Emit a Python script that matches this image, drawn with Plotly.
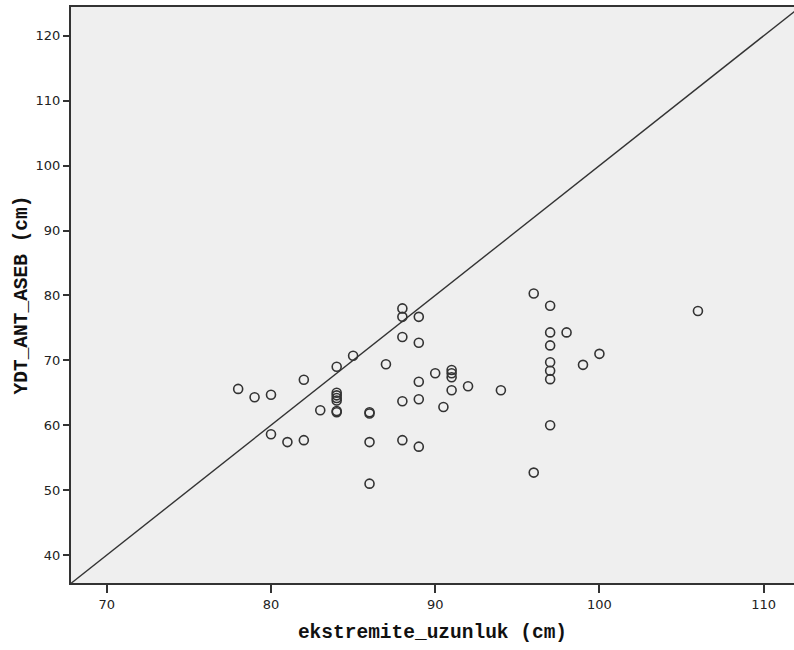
import plotly.graph_objects as go

# Limb length vs. YDT_ANT_ASEB measurements (cm)
ekstremite_uzunluk = [
    78, 79, 80, 80, 81, 82, 82, 83,
    84, 84, 84, 84, 84, 84, 84,
    85, 86, 86, 86, 86, 87,
    88, 88, 88, 88, 88,
    89, 89, 89, 89, 89,
    90, 90.5, 91, 91, 91, 91, 92, 94,
    96, 96, 97, 97, 97, 97, 97, 97, 97,
    98, 99, 100, 106,
]
ydt_ant_aseb = [
    65.6, 64.3, 64.7, 58.6, 57.4, 67.0, 57.7, 62.3,
    69.0, 65.0, 64.6, 64.2, 63.8, 62.2, 62.0,
    70.7, 62.0, 61.8, 57.4, 51.0, 69.4,
    78.0, 76.7, 73.6, 63.7, 57.7,
    76.7, 72.7, 66.7, 64.0, 56.7,
    68.0, 62.8, 68.5, 68.0, 67.4, 65.4, 66.0, 65.4,
    80.3, 52.7, 78.4, 74.3, 72.3, 69.7, 68.4, 67.1, 60.0,
    74.3, 69.3, 71.0, 77.6,
]

x_ticks = [70, 80, 90, 100, 110]
y_ticks = [40, 50, 60, 70, 80, 90, 100, 110, 120]

# Reference line y = a*x + b
ref_slope = 2.0
ref_intercept = -100.0
ref_x = [60, 120]
ref_y = [ref_slope * v + ref_intercept for v in ref_x]

x_range = [67.82, 111.85]
y_range = [35.69, 124.44]

ink = "#333333"

fig = go.Figure()

fig.add_trace(go.Scatter(
    x=ref_x, y=ref_y, mode="lines",
    line=dict(color=ink, width=1.4),
    hoverinfo="skip", showlegend=False,
))

fig.add_trace(go.Scatter(
    x=ekstremite_uzunluk, y=ydt_ant_aseb, mode="markers",
    marker=dict(symbol="circle-open", size=9, color=ink,
                line=dict(width=1.6, color=ink)),
    showlegend=False,
))

tick_font = dict(family="DejaVu Sans", size=13, color="#222222")
title_font = dict(family="Liberation Mono", size=19.5, color="#111111", weight="bold")

fig.update_layout(
    width=794, height=650,
    margin=dict(l=71, r=0, t=7, b=67),
    paper_bgcolor="white",
    plot_bgcolor="#efefef",
    xaxis=dict(
        range=x_range, tickvals=x_ticks, ticktext=[str(v) for v in x_ticks],
        showgrid=False, zeroline=False,
        showline=True, linecolor=ink, linewidth=2, mirror=True,
        ticks="outside", ticklen=8, tickwidth=1.5, tickcolor=ink,
        tickfont=tick_font,
        title=dict(text="ekstremite_uzunluk (cm)", font=title_font, standoff=14),
    ),
    yaxis=dict(
        range=y_range, tickvals=y_ticks, ticktext=[str(v) for v in y_ticks],
        showgrid=False, zeroline=False,
        showline=True, linecolor=ink, linewidth=2,
        ticks="outside", ticklen=6, tickwidth=1.5, tickcolor=ink,
        tickfont=tick_font,
        title=dict(text="YDT_ANT_ASEB (cm)", font=title_font, standoff=3),
    ),
)

fig.write_html("out.html")
